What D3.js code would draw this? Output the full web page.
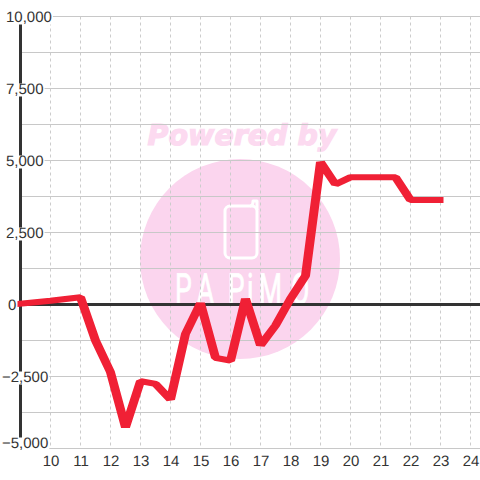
<!DOCTYPE html>
<html><head><meta charset="utf-8">
<script src="https://cdn.jsdelivr.net/npm/d3@7/dist/d3.min.js"></script>
<style>html,body{margin:0;padding:0;background:#fff}svg{display:block}text{text-rendering:geometricPrecision}</style>
</head><body><svg id="c" width="480" height="480"></svg>
<script>
const hours=[9,9.5,10,10.5,11,11.5,12,12.5,13,13.5,14,14.5,15,15.5,16,16.5,17,17.5,18,18.5,19,19.5,20,20.5,21,21.5,22,22.5,23];
const values=[30,80,130,190,250,-1250,-2350,-4270,-2660,-2760,-3300,-1020,50,-1850,-1950,200,-1420,-730,200,1000,4950,4170,4420,4420,4420,4420,3630,3630,3630];
const xTicks=[10,11,12,13,14,15,16,17,18,19,20,21,22,23,24];
const yLabelTicks=[10000,7500,5000,2500,0,-2500,-5000];
const yGridTicks=[10000,8750,7500,6250,5000,3750,2500,1250,0,-1250,-2500,-3750,-5000];
const watermarkTop="Powered by", watermarkBrand="PAPiMO";

const svg=d3.select("#c");
const x=d3.scaleLinear().domain([9,24]).range([20.5,470.5]);
const y=d3.scaleLinear().domain([-5000,10000]).range([448.5,16.5]);
const font="'Liberation Sans',Arial,sans-serif";

// watermark
const wm=svg.append("g");
wm.append("circle").attr("cx",240).attr("cy",259).attr("r",100).attr("fill","#fbd5ee");
wm.append("text").attr("x",242).attr("y",145).attr("text-anchor","middle")
  .attr("font-family","'DejaVu Sans'").attr("font-weight","bold").attr("font-style","italic")
  .attr("font-size",28.5).attr("fill","#fcdaf0").attr("stroke","#fcdaf0").attr("stroke-width",1.2).text(watermarkTop);
wm.append("rect").attr("x",225).attr("y",206).attr("width",32).attr("height",52).attr("rx",5)
  .attr("fill","none").attr("stroke","#fff").attr("stroke-width",3);
wm.append("path").attr("d","M250 206 Q253 206 253 201 L257 201 L257 210")
  .attr("fill","none").attr("stroke","#fff").attr("stroke-width",3).attr("stroke-linejoin","round");
wm.append("text").attr("transform","translate(172,304) scale(0.62,1)")
  .attr("x",[5,40,90,121,140,192].join(" ")).attr("y",0)
  .attr("font-family","Roboto").attr("font-size",43).attr("fill","#fff")
  .attr("stroke","#fff").attr("stroke-width",0.8).text(watermarkBrand);

// grid
const grid=svg.append("g");
grid.selectAll(".h").data(yGridTicks).join("line")
  .attr("x1",x(9)).attr("x2",480).attr("y1",d=>y(d)).attr("y2",d=>y(d))
  .attr("stroke","#c8c8c8").attr("stroke-width",1);
grid.selectAll(".v").data(xTicks).join("line")
  .attr("x1",d=>x(d)).attr("x2",d=>x(d)).attr("y1",y(10000)).attr("y2",y(-5000))
  .attr("stroke","#cccccc").attr("stroke-width",1).attr("stroke-dasharray","3 3");

// axis lines
svg.append("line").attr("x1",x(9)).attr("x2",x(9)).attr("y1",y(10000)).attr("y2",y(-5000))
  .attr("stroke","#333").attr("stroke-width",3);
svg.append("line").attr("x1",x(9)).attr("x2",480).attr("y1",y(0)).attr("y2",y(0))
  .attr("stroke","#333").attr("stroke-width",3);

// y labels
const labelX=d=>d<0?2:(d===0?8:6);
const labelShift=d=>d===-5000?-6:0;
const yl=svg.append("g").selectAll("g").data(yLabelTicks).join("g")
  .attr("transform",d=>`translate(${labelX(d)},${y(d)+labelShift(d)})`);
yl.append("text").attr("y",5.5).attr("font-family",font).attr("font-size",15).attr("fill","#333")
  .text(d=>d3.format(",")(d));
yl.insert("rect","text").each(function(){
  const w=this.parentNode.querySelector("text").getComputedTextLength();
  d3.select(this).attr("x",-1).attr("y",-5).attr("width",w+2).attr("height",13).attr("fill","#fff");
});

// x labels
const xAxis=d3.axisBottom(x).tickValues(xTicks).tickFormat(d3.format("d")).tickSize(0).tickPadding(0);
const xg=svg.append("g").attr("transform","translate(0,455)").call(xAxis);
xg.select(".domain").remove();
xg.selectAll("text").attr("font-family",font).attr("font-size",15).attr("fill","#333").attr("dy","0.71em").attr("y",0);

// series: pen is wider horizontally than vertically
const penStretch=1.5;
const line=d3.line().x((d,i)=>x(hours[i])/penStretch).y(d=>y(d));
svg.append("clipPath").attr("id","ends").append("rect")
  .attr("x",x(9)-3).attr("y",0).attr("width",x(23)-x(9)+6).attr("height",480);
svg.append("g").attr("clip-path","url(#ends)")
  .append("path").datum(values).attr("d",line).attr("transform",`scale(${penStretch},1)`).attr("fill","none")
  .attr("stroke","#f02035").attr("stroke-width",6).attr("stroke-linecap","square").attr("stroke-linejoin","bevel");
</script></body></html>
